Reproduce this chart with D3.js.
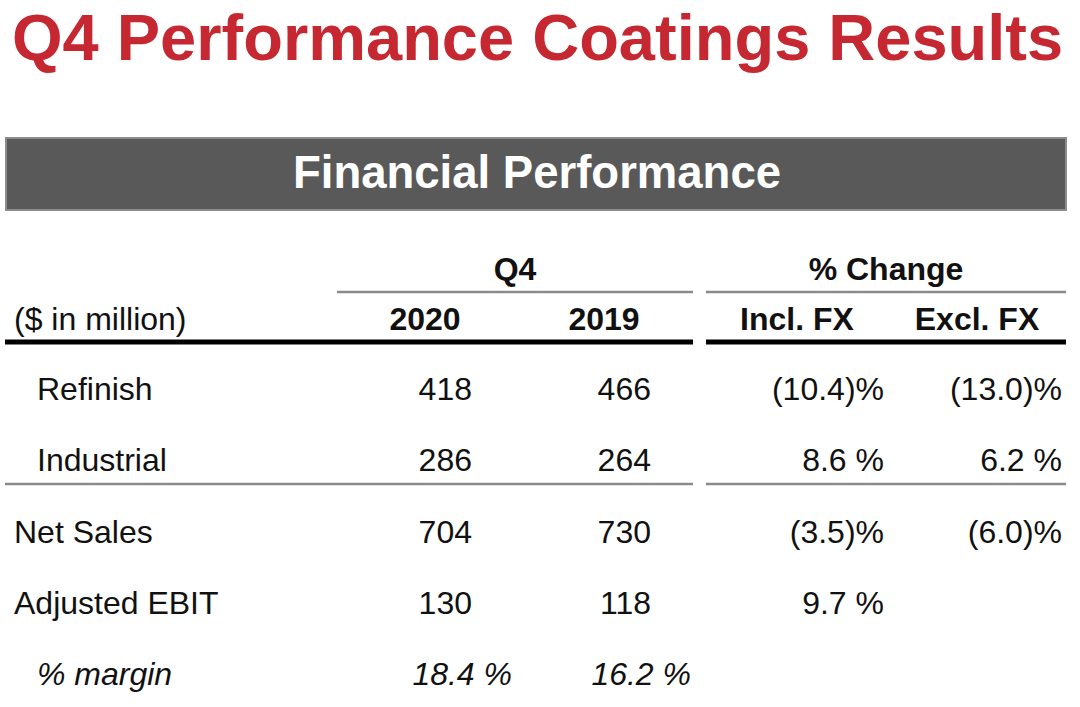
<!DOCTYPE html>
<html><head><meta charset="utf-8">
<script src="https://cdn.jsdelivr.net/npm/d3@7"></script>
<style>body{margin:0;background:#fff}svg{display:block}</style>
</head><body>
<script>
const title = "Q4 Performance Coatings Results";
const bandTitle = "Financial Performance";
const groupHeaders = ["Q4", "% Change"];
const columnHeaders = ["2020", "2019", "Incl. FX", "Excl. FX"];
const unitLabel = "($ in million)";
const rowLabels = ["Refinish", "Industrial", "Net Sales", "Adjusted EBIT", "% margin"];
const values2020 = ["418", "286", "704", "130", "18.4 %"];
const values2019 = ["466", "264", "730", "118", "16.2 %"];
const inclFX = ["(10.4)%", "8.6 %", "(3.5)%", "9.7 %", ""];
const exclFX = ["(13.0)%", "6.2 %", "(6.0)%", "", ""];
const indented = [true, true, false, false, true];
const italicRow = [false, false, false, false, true];

const W = 1080, H = 707;
const svg = d3.select("body").append("svg").attr("width", W).attr("height", H);
const font = "'Liberation Sans', Arial, sans-serif";

svg.append("text").attr("x", 12).attr("y", 60).text(title)
  .attr("font-family", font).attr("font-weight", "bold").attr("font-size", 65)
  .attr("fill", "#C62832");

svg.append("rect").attr("x", 6).attr("y", 138).attr("width", 1060).attr("height", 72)
  .attr("fill", "#595959").attr("stroke", "#8c8c8c").attr("stroke-width", 2);
svg.append("text").attr("x", 537).attr("y", 188).attr("text-anchor", "middle").text(bandTitle)
  .attr("font-family", font).attr("font-weight", "bold").attr("font-size", 45.5).attr("fill", "#fff");

// column scale: right edges of value columns
const colX = d3.scaleOrdinal().domain(["c2020", "c2019", "incl", "excl"]).range([472, 651, 884, 1062]);
const colCenter = d3.scaleOrdinal().domain(columnHeaders).range([425, 604, 797, 977]);
const rowY = d3.scalePoint().domain(rowLabels).range([400, 685]);

// group headers
const groupX = d3.scaleOrdinal().domain(groupHeaders).range([515, 886]);
const groupSpan = d3.scaleOrdinal().domain(groupHeaders).range([[337, 693], [706, 1066]]);
groupHeaders.forEach(g => {
  svg.append("text").attr("x", groupX(g)).attr("y", 280).attr("text-anchor", "middle").text(g)
    .attr("font-family", font).attr("font-weight", "bold").attr("font-size", 32).attr("fill", "#111");
  const [a, b] = groupSpan(g);
  svg.append("line").attr("x1", a).attr("x2", b).attr("y1", 292).attr("y2", 292)
    .attr("stroke", "#8a8a8a").attr("stroke-width", 2.5);
});

svg.append("text").attr("x", 14).attr("y", 330).text(unitLabel)
  .attr("font-family", font).attr("font-size", 32).attr("fill", "#111");
columnHeaders.forEach(c => {
  svg.append("text").attr("x", colCenter(c)).attr("y", 330).attr("text-anchor", "middle").text(c)
    .attr("font-family", font).attr("font-weight", "bold").attr("font-size", 32).attr("fill", "#111");
});

// thick rules
[[5, 693], [706, 1066]].forEach(([a, b]) => {
  svg.append("line").attr("x1", a).attr("x2", b).attr("y1", 342).attr("y2", 342)
    .attr("stroke", "#000").attr("stroke-width", 5);
});
// thin rule under Industrial
[[5, 693], [706, 1066]].forEach(([a, b]) => {
  svg.append("line").attr("x1", a).attr("x2", b).attr("y1", 484).attr("y2", 484)
    .attr("stroke", "#8a8a8a").attr("stroke-width", 2.5);
});

const cols = [["c2020", values2020], ["c2019", values2019], ["incl", inclFX], ["excl", exclFX]];
rowLabels.forEach((r, i) => {
  const y = rowY(r);
  const it = italicRow[i];
  svg.append("text").attr("x", indented[i] ? 37 : 14).attr("y", y).text(r)
    .attr("font-family", font).attr("font-size", 32).attr("fill", "#111")
    .attr("font-style", it ? "italic" : "normal");
  cols.forEach(([k, arr]) => {
    if (!arr[i]) return;
    svg.append("text").attr("x", colX(k) + (it ? 40 : 0)).attr("y", y).attr("text-anchor", "end").text(arr[i])
      .attr("font-family", font).attr("font-size", 32).attr("fill", "#111")
      .attr("font-style", it ? "italic" : "normal");
  });
});
</script>
</body></html>
